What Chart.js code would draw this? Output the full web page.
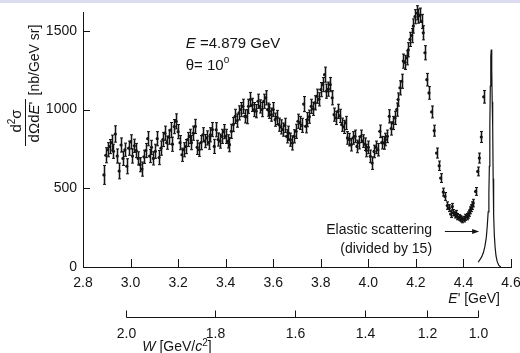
<!DOCTYPE html>
<html><head><meta charset="utf-8">
<script src="https://cdn.jsdelivr.net/npm/chart.js@4.4.0/dist/chart.umd.min.js"></script>
<style>
html,body{margin:0;padding:0;background:#fff;}
#wrap{position:relative;width:520px;height:353px;overflow:hidden;}
#band{position:absolute;left:0;top:0;width:520px;height:3px;background:#dcdcf0;}
canvas{display:block;}
</style></head><body>
<div id="wrap"><canvas id="c" width="520" height="353"></canvas><div id="band"></div></div>
<script>
// ---- data ----
const ePrime = [2.888,2.896,2.904,2.912,2.920,2.928,2.936,2.944,2.952,2.960,2.968,2.976,2.984,2.992,3.000,3.008,3.016,3.024,3.032,3.040,3.048,3.056,3.064,3.072,3.080,3.088,3.096,3.104,3.112,3.120,3.128,3.136,3.144,3.152,3.160,3.168,3.176,3.184,3.192,3.200,3.208,3.216,3.224,3.232,3.240,3.248,3.256,3.264,3.272,3.280,3.288,3.296,3.304,3.312,3.320,3.328,3.336,3.344,3.352,3.360,3.368,3.376,3.384,3.392,3.400,3.408,3.416,3.424,3.432,3.440,3.448,3.456,3.464,3.472,3.480,3.488,3.496,3.504,3.512,3.520,3.528,3.536,3.544,3.552,3.560,3.568,3.576,3.584,3.592,3.600,3.608,3.616,3.624,3.632,3.640,3.648,3.656,3.664,3.672,3.680,3.688,3.696,3.704,3.712,3.720,3.728,3.736,3.744,3.752,3.760,3.768,3.776,3.784,3.792,3.800,3.808,3.816,3.824,3.832,3.840,3.848,3.856,3.864,3.872,3.880,3.888,3.896,3.904,3.912,3.920,3.928,3.936,3.944,3.952,3.960,3.968,3.976,3.984,3.992,4.000,4.008,4.016,4.024,4.032,4.040,4.048,4.056,4.064,4.072,4.080,4.088,4.096,4.104,4.112,4.119,4.125,4.133,4.140,4.147,4.154,4.161,4.168,4.175,4.182,4.189,4.196,4.203,4.210,4.217,4.224,4.231,4.238,4.246,4.255,4.266,4.277,4.287,4.298,4.304,4.315,4.322,4.332,4.340,4.346,4.353,4.358,4.364,4.369,4.374,4.380,4.385,4.390,4.395,4.402,4.408,4.413,4.418,4.423,4.428,4.432,4.437,4.441,4.451,4.460,4.467,4.475,4.485];
const sigma = [585,710,745,765,790,735,845,705,610,775,690,745,640,755,795,705,770,740,690,650,622,700,740,815,705,760,690,735,815,695,755,810,850,790,825,870,780,892,925,860,790,713,745,765,810,830,790,850,893,760,745,790,840,800,820,790,840,873,766,872,810,800,830,860,830,798,777,862,905,957,930,979,1000,1021,957,955,1021,1064,1030,1000,990,1053,1020,1000,1053,1075,1000,989,968,1000,936,950,904,890,873,900,830,850,809,788,830,862,926,915,900,1035,894,936,955,1021,1005,1043,1085,1065,1127,1159,1222,1117,1130,1159,1075,968,947,989,960,904,890,915,820,809,777,820,830,766,790,830,800,780,740,760,703,660,734,760,745,862,790,788,810,830,957,880,915,947,1000,1064,1138,1180,1308,1300,1329,1380,1446,1470,1531,1590,1615,1594,1600,1560,1488,1361,1190,1106,985,866,724,643,565,476,448,390,374,336,384,345,331,340,320,315,310,305,299,304,315,320,330,342,360,374,390,406,480,607,692,826,1081];
const sigmaErr = [60,48,45,45,48,45,52,45,50,45,45,42,48,45,45,45,42,45,42,45,45,42,45,45,42,45,42,45,45,45,45,45,45,42,45,48,45,45,48,45,45,42,45,45,45,45,45,45,45,45,42,45,45,42,45,42,45,45,45,45,42,45,45,45,45,42,45,45,45,45,42,45,45,45,42,45,45,45,42,45,42,45,42,45,45,45,42,45,42,45,42,45,42,45,42,45,42,45,42,45,42,45,45,42,45,48,42,45,42,45,42,45,45,42,45,45,48,45,45,45,45,42,42,45,42,42,42,42,40,40,40,40,40,40,40,40,40,40,40,40,40,40,40,40,40,40,40,40,40,40,42,42,42,42,42,42,45,45,45,45,45,45,45,45,45,45,45,45,45,45,45,45,40,40,38,35,32,30,28,25,25,24,22,22,20,20,20,20,20,18,18,18,18,18,20,20,20,20,22,22,24,24,25,28,32,35,40,55];
// elastic peak (divided by 15)
const elasticE = [4.462,4.470,4.477,4.484,4.490,4.496,4.500,4.504,4.507,4.509,4.511,4.513,4.515,4.517,4.519,4.521,4.523,4.525,4.527,4.530,4.533,4.537,4.542,4.549,4.557];
const elasticSigma = [30,48,66,92,129,185,257,350,469,640,894,1150,1340,1382,1250,1050,894,560,330,200,129,70,34,10,0];
const xTicks = [2.8,3.0,3.2,3.4,3.6,3.8,4.0,4.2,4.4,4.6];
const yTicks = [0,500,1000,1500];
const wTicks = [2.0,1.8,1.6,1.4,1.2,1.0];
const beamE = 4.879, thetaDeg = 10, protonM = 0.938;

const FONT = '"Liberation Sans", Arial, sans-serif';
const F = '14px ' + FONT, FI = 'italic 14px ' + FONT, FS = '10px ' + FONT;
const F15 = '15px ' + FONT, FI15 = 'italic 15px ' + FONT;
const INK = '#141414';

function rich(ctx, parts, x, y, align){
  let w = 0;
  parts.forEach(p => { ctx.font = p.f; p.w = ctx.measureText(p.t).width; w += p.w; });
  let cx = align === 'center' ? x - w/2 : (align === 'right' ? x - w : x);
  ctx.textAlign = 'left'; ctx.textBaseline = 'middle';
  parts.forEach(p => { ctx.font = p.f; ctx.fillText(p.t, cx, y + (p.dy||0)); cx += p.w; });
}
function eFromW(w){
  const s2 = Math.pow(Math.sin(thetaDeg*Math.PI/360),2);
  return (protonM*protonM + 2*protonM*beamE - w*w) / (2*protonM + 4*beamE*s2);
}

const extras = {
  id: 'extras',
  beforeDatasetsDraw(chart){
    const {ctx, scales:{x, y}} = chart;
    ctx.save();
    for (let i = 0; i < ePrime.length; i++){
      const px = Math.round(x.getPixelForValue(ePrime[i])) + 0.5;
      const y1 = y.getPixelForValue(sigma[i] - sigmaErr[i]);
      const y2 = y.getPixelForValue(sigma[i] + sigmaErr[i]);
      ctx.strokeStyle = 'rgba(140,140,140,0.55)'; ctx.lineWidth = 3;
      ctx.beginPath(); ctx.moveTo(px, y1); ctx.lineTo(px, y2); ctx.stroke();
    }
    ctx.strokeStyle = INK; ctx.lineWidth = 1;
    for (let i = 0; i < ePrime.length; i++){
      const px = Math.round(x.getPixelForValue(ePrime[i])) + 0.5;
      const y1 = y.getPixelForValue(sigma[i] - sigmaErr[i]);
      const y2 = y.getPixelForValue(sigma[i] + sigmaErr[i]);
      ctx.beginPath(); ctx.moveTo(px, y1); ctx.lineTo(px, y2);
      ctx.moveTo(px-1.5, y1); ctx.lineTo(px+1.5, y1);
      ctx.moveTo(px-1.5, y2); ctx.lineTo(px+1.5, y2);
      ctx.stroke();
    }
    ctx.restore();
  },
  afterDraw(chart){
    const {ctx, chartArea:ca, scales:{x, y}} = chart;
    ctx.save();
    ctx.strokeStyle = INK; ctx.fillStyle = INK; ctx.lineWidth = 1;
    // inward tick marks
    ctx.beginPath();
    xTicks.forEach(v => { if (v === xTicks[0]) return; const px = Math.round(x.getPixelForValue(v)) + 0.5; ctx.moveTo(px, ca.bottom); ctx.lineTo(px, ca.bottom - 8); });
    yTicks.forEach(v => { if (v === 0) return; const py = Math.round(y.getPixelForValue(v)) + 0.5; ctx.moveTo(ca.left, py); ctx.lineTo(ca.left + 7, py); });
    ctx.stroke();
    // W axis
    const wy = 317.5;
    const wpx = wTicks.map(w => Math.round(x.getPixelForValue(eFromW(w))) + 0.5);
    ctx.beginPath();
    ctx.moveTo(Math.min(...wpx), wy); ctx.lineTo(Math.max(...wpx), wy);
    wpx.forEach(px => { ctx.moveTo(px, wy); ctx.lineTo(px, wy - 7); });
    ctx.stroke();
    wTicks.forEach((w, i) => rich(ctx, [{t: w.toFixed(1), f: F}], wpx[i], 334, 'center'));
    rich(ctx, [{t:'W', f:FI}, {t:' [GeV/', f:F}, {t:'c', f:FI}, {t:'2', f:FS, dy:-4}, {t:']', f:F}], 177, 347, 'center');
    // E' axis title
    rich(ctx, [{t:'E', f:FI}, {t:"' [GeV]", f:F}], 500, 299, 'right');
    // annotations
    const ax = x.getPixelForValue(3.232);
    rich(ctx, [{t:'E', f:FI15}, {t:' =4.879 GeV', f:F15}], ax, y.getPixelForValue(1420), 'left');
    rich(ctx, [{t:'\u03b8= 10', f:F15}, {t:'o', f:FS, dy:-5}], ax, y.getPixelForValue(1280), 'left');
    const tx = x.getPixelForValue(4.268);
    rich(ctx, [{t:'Elastic scattering', f:F}], tx, y.getPixelForValue(232), 'right');
    rich(ctx, [{t:'(divided by 15)', f:F}], tx, y.getPixelForValue(115), 'right');
    // arrow
    const ay = Math.round(y.getPixelForValue(229)) + 0.5;
    const a0 = x.getPixelForValue(4.322), a1 = x.getPixelForValue(4.466);
    ctx.beginPath(); ctx.moveTo(a0, ay); ctx.lineTo(a1 - 5, ay); ctx.stroke();
    ctx.beginPath(); ctx.moveTo(a1, ay); ctx.lineTo(a1 - 7, ay - 2.5); ctx.lineTo(a1 - 7, ay + 2.5); ctx.closePath(); ctx.fill();
    // y-axis title (rotated)
    function rot(cx, cy, fn){ ctx.save(); ctx.translate(cx, cy); ctx.rotate(-Math.PI/2); fn(); ctx.restore(); }
    rot(35, 60, () => rich(ctx, [{t:'[nb/GeV sr]', f:F}], 0, 0, 'center'));
    rot(17, 121, () => rich(ctx, [{t:'d', f:F15}, {t:'2', f:FS, dy:-5}, {t:'\u03c3', f:F15}], 0, 0, 'center'));
    rot(35, 122, () => rich(ctx, [{t:'d\u03a9d', f:F15}, {t:'E', f:FI15}, {t:"'", f:F15}], 0, 0, 'center'));
    ctx.beginPath(); ctx.moveTo(25.5, 99); ctx.lineTo(25.5, 146); ctx.stroke();
    ctx.restore();
  }
};

new Chart(document.getElementById('c'), {
  type: 'scatter',
  data: {
    datasets: [
      { data: ePrime.map((e, i) => ({x: e, y: sigma[i]})), pointRadius: 1.6, pointBackgroundColor: INK, pointBorderWidth: 0, showLine: false },
      { type: 'line', data: elasticE.map((e, i) => ({x: e, y: elasticSigma[i]})), borderColor: INK, borderWidth: 1.2, pointRadius: 0, tension: 0, fill: false }
    ]
  },
  options: {
    responsive: false, animation: false, devicePixelRatio: 1,
    layout: { padding: { top: 12, right: 9, left: 0, bottom: 0 } },
    plugins: { legend: { display: false }, tooltip: { enabled: false } },
    scales: {
      x: {
        type: 'linear', min: 2.8, max: 4.6,
        afterBuildTicks: s => { s.ticks = xTicks.map(v => ({value: v})); },
        afterFit: s => { s.height = 86; s.paddingLeft = 0; s.paddingRight = 0; },
        grid: { display: false, drawTicks: false },
        border: { display: true, color: INK, width: 1 },
        ticks: { color: INK, font: { family: FONT, size: 14 }, padding: 8, maxRotation: 0, autoSkip: false, callback: v => Number(v).toFixed(1) }
      },
      y: {
        type: 'linear', min: 0, max: 1620,
        afterBuildTicks: s => { s.ticks = yTicks.map(v => ({value: v})); },
        afterFit: s => { s.width = 83; s.paddingTop = 0; s.paddingBottom = 0; },
        grid: { display: false, drawTicks: false },
        border: { display: true, color: INK, width: 1 },
        ticks: { color: INK, font: { family: FONT, size: 14 }, padding: 6, callback: v => String(v) }
      }
    }
  },
  plugins: [extras]
});
</script>
</body></html>
